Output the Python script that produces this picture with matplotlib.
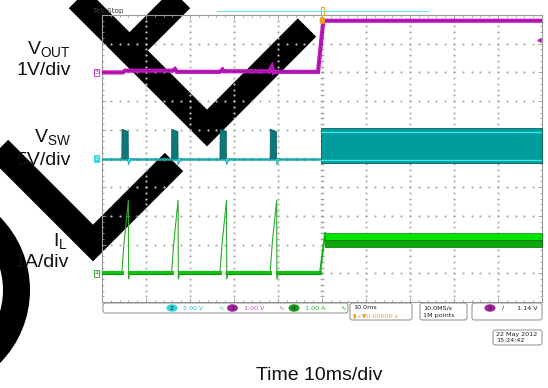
import matplotlib
matplotlib.use("Agg")
import matplotlib.pyplot as plt
import numpy as np
from matplotlib.patches import FancyBboxPatch, Wedge, Ellipse, Rectangle

plt.rcParams['font.family'] = ['Liberation Sans', 'DejaVu Sans']
W, H = 548, 388

# scope settings: 10 ms/div, 10 divisions, trigger at centre
t_min, t_max = -50, 50
vout_scale, vout_offset = 1.0, 3.0    # V/div, ground position in div
vsw_scale, vsw_offset = 5.0, 0.0
il_scale, il_offset = 1.0, -4.0
trig_level = 1.14

# V_OUT (V)
vout_t = [-50, -45.2, -44.8, -34.0, -33.4, -33.0, -23.2, -22.6, -22.3, -12.0, -11.4, -11.0, -10.8, -0.9, 0.3, 50]
vout_v = [0.0, 0.0, 0.06, 0.06, 0.12, 0.02, 0.02, 0.10, 0.04, 0.04, 0.20, 0.00, 0.02, 0.02, 1.80, 1.80]

# switching bursts before start-up (rising edge times, ms)
pulse_t = [-45.5, -34.2, -23.2, -11.8]
vsw_pulse_t = [0.0, 0.05, 1.45, 1.5]
vsw_pulse_v = [0.0, 5.1, 4.7, 0.0]
vsw_dip_t = [1.3, 1.5, 2.3]
vsw_dip_v = [0.0, -1.1, 0.0]
il_pulse_t = [0.0, 0.5, 1.5, 1.55, 1.9]
il_pulse_v = [0.0, 1.05, 2.55, -0.2, 0.0]

# continuous switching after start-up
start_t = -0.3
vsw_band = (-0.85, 5.25)
vsw_edges = (-0.25, 4.7)
il_rise_t = [-0.45, 0.7]
il_rise_v = [0.0, 1.4]
il_band = (0.93, 1.39)

fig = plt.figure(figsize=(W / 100, H / 100), dpi=100)

# watermark layer (pixel coords)
bg = fig.add_axes([0, 0, 1, 1], zorder=0)
bg.set_xlim(0, W); bg.set_ylim(H, 0); bg.axis('off')
wm_col = '#000000'
wm = dict(color=wm_col, lw=18.7, solid_joinstyle='miter', solid_capstyle='butt')
bg.plot([59, 207, 307], [-20, 128, 27.5], **wm)
bg.plot([200, 130], [-20, 50], **wm)
bg.plot([-20, 93, 174], [130, 243, 162], **wm)
bg.add_patch(Wedge((-74, 290), 104, -90, 90, width=27, color=wm_col, lw=0))

# scope graticule
ax = fig.add_axes([102 / W, 1 - 302 / H, 440 / W, 287 / H], zorder=1)
ax.patch.set_alpha(0)
ax.set_xlim(t_min, t_max)
ax.set_ylim(-5, 5)
for s in ax.spines.values():
    s.set_color('#9a9a9a'); s.set_linewidth(0.8)
ax.set_xticks(np.arange(-50, 51, 10))
ax.set_xticks(np.arange(-50, 51, 2), minor=True)
ax.set_yticks(np.arange(-5, 6, 1))
ax.set_yticks(np.arange(-5, 5.01, 0.2), minor=True)
ax.tick_params(which='both', direction='in', top=True, right=True, labelbottom=False,
               labelleft=False, color='#9a9a9a', width=0.6)
ax.tick_params(which='major', length=3)
ax.tick_params(which='minor', length=1.5)

gx = np.arange(-40, 41, 10)
gy = np.arange(-4, 5, 1)
dots_y = np.arange(-5, 5.01, 0.2)
dots_x = np.arange(-50, 51, 2)
for x in gx:
    ax.plot(np.full_like(dots_y, x), dots_y, ls='', marker='s', ms=0.6, color='#b4b4b4', zorder=1)
for y in gy:
    ax.plot(dots_x, np.full_like(dots_x, y, dtype=float), ls='', marker='s', ms=0.6, color='#b4b4b4', zorder=1)
ax.plot(np.zeros_like(dots_y), dots_y, ls='', marker='_', ms=3, mew=0.6, color='#a0a0a0', zorder=1)
ax.plot(dots_x, np.zeros_like(dots_x, dtype=float), ls='', marker='|', ms=3, mew=0.6, color='#a0a0a0', zorder=1)

# V_SW
vsw_t = [t_min, start_t]
ax.plot(vsw_t, [vsw_offset] * 2, color='#1aa6ae', lw=1.8, zorder=3)
for p in pulse_t:
    ax.fill([p + v for v in vsw_pulse_t], [vsw_offset + v / vsw_scale for v in vsw_pulse_v],
            fc='#0c7878', ec='#065858', lw=0.5, zorder=4)
    ax.fill([p + v for v in vsw_dip_t], [vsw_offset + v / vsw_scale for v in vsw_dip_v],
            fc='#40dde6', ec='#0c8c90', lw=0.4, zorder=4)
ax.fill_between([start_t, t_max], vsw_offset + vsw_band[0] / vsw_scale,
                vsw_offset + vsw_band[1] / vsw_scale, fc='#009c9c', ec='#0b5e5e', lw=0.6, zorder=3)
for e in vsw_edges:
    ax.plot([start_t, t_max], [vsw_offset + e / vsw_scale] * 2, color='#3fe2e6', lw=1.0, zorder=4)

# V_OUT
vout_y = [vout_offset + v / vout_scale for v in vout_v]
ax.plot(vout_t, vout_y, color='#c414c4', lw=3.0, zorder=5, solid_joinstyle='miter')
ax.plot(vout_t, vout_y, color='#8c1c8c', lw=0.6, zorder=5)

# I_L
base_t, base_v = [t_min], [0.0]
for p in pulse_t:
    base_t += [p, np.nan, p + il_pulse_t[-1]]
    base_v += [0.0, np.nan, 0.0]
base_t.append(il_rise_t[0]); base_v.append(0.0)
base_y = [il_offset + v / il_scale for v in base_v]
ax.plot(base_t, base_y, color='#12c412', lw=3.0, zorder=4)
ax.plot(base_t, [y - 0.04 for y in base_y], color='#0a780a', lw=0.5, zorder=4)
for p in pulse_t:
    ax.plot([p + v for v in il_pulse_t], [il_offset + v / il_scale for v in il_pulse_v],
            color='#2caa2c', lw=0.8, zorder=4)
ax.plot(il_rise_t, [il_offset + v / il_scale for v in il_rise_v], color='#10b010', lw=1.4, zorder=4)
mid = (il_band[0] + il_band[1]) / 2
ax.fill_between([il_rise_t[1], t_max], il_offset + mid / il_scale, il_offset + il_band[1] / il_scale,
                fc='#00e400', ec='#0a8a0a', lw=0.5, zorder=3)
ax.fill_between([il_rise_t[1], t_max], il_offset + il_band[0] / il_scale, il_offset + mid / il_scale,
                fc='#0aa80a', ec='#076807', lw=0.5, zorder=3)

# ground markers and trigger level
for lab, off, fc, ec, tc in [('3', vout_offset, 'white', '#c020c0', '#c020c0'),
                             ('2', vsw_offset, '#2ed6e0', '#2ed6e0', 'white'),
                             ('4', il_offset, 'white', '#20a020', '#20a020')]:
    ax.text(t_min - 0.8, off, lab, ha='right', va='center', fontsize=4.5, color=tc,
            family='DejaVu Sans', clip_on=False,
            bbox=dict(boxstyle='square,pad=0.15', fc=fc, ec=ec, lw=0.6))
ax.plot(t_max - 0.6, vout_offset + trig_level / vout_scale, marker='<', ms=2.5, color='#c020c0',
        clip_on=False, zorder=6)

# UI layer (pixel coords)
ui = fig.add_axes([0, 0, 1, 1], zorder=2)
ui.set_xlim(0, W); ui.set_ylim(H, 0); ui.axis('off')
ui.patch.set_visible(False)
small = dict(fontsize=4.6, family=['DejaVu Sans'], va='center')

ui.text(93, 10.5, 'Tek Stop', fontsize=5.2, color='#404040', family=['DejaVu Sans'], va='center')
ui.plot([217, 428], [11, 11], color='#6ae2ea', lw=0.8)
ui.add_patch(Rectangle((320.6, 7), 3, 8, fc='white', ec='#f0a020', lw=0.7))
ui.add_patch(FancyBboxPatch((320, 17.5), 4.6, 6, boxstyle='round,pad=0,rounding_size=1.5',
                            fc='#f0a020', ec='#f0a020', lw=0.5))

def box(x, y, w, h):
    ui.add_patch(FancyBboxPatch((x, y), w, h, boxstyle='round,pad=0,rounding_size=2.5',
                                fc='white', ec='#8c8c8c', lw=0.7))

box(103, 303, 245, 10)
for cx, num, fc, txt, tc in [(172, '2', '#30d4e0', '5.00 V', '#22c4d2'),
                             (232.5, '3', '#a424a4', '1.00 V', '#c040c0'),
                             (294, '4', '#14a014', '1.00 A', '#22b022')]:
    ui.add_patch(Ellipse((cx, 308), 11, 7.5, fc=fc, ec='none'))
    ui.text(cx, 308.2, num, ha='center', color='#202020', **small)
    ui.text(cx + 11, 308.2, txt, ha='left', color=tc, **small)
    ui.text(cx + 46, 308.2, '\u223f', ha='left', color=tc, **small)

box(350, 303, 62, 17)
ui.text(353, 307.5, '10.0ms', ha='left', color='#202020', **small)
ui.text(353, 315.5, '\u25ae+\u25bc0.00000 s', ha='left', color='#f0a020', **small)
box(420, 303, 47, 17)
ui.text(423, 307.5, '10.0MS/s', ha='left', color='#202020', **small)
ui.text(423, 315.5, '1M points', ha='left', color='#202020', **small)
box(472, 303, 70, 17)
ui.add_patch(Ellipse((490, 308), 11, 7.5, fc='#a424a4', ec='none'))
ui.text(490, 308.2, '3', ha='center', color='#202020', **small)
ui.text(503, 308.2, '/', ha='center', color='#202020', **small)
ui.text(538, 308.2, '1.14 V', ha='right', color='#202020', **small)
box(493, 330, 49, 15)
ui.text(496, 334.5, '22 May 2012', ha='left', color='#202020', **small)
ui.text(496, 341, '15:24:42', ha='left', color='#202020', **small)

# channel labels
lab = dict(fontsize=14, ha='right', va='baseline', color='#111111')
fig.text(71 / W, 1 - 55 / H, r'V$_\mathregular{OUT}$', **lab)
fig.text(71 / W, 1 - 75 / H, '1V/div', **lab)
fig.text(71 / W, 1 - 143 / H, r'V$_\mathregular{SW}$', **lab)
fig.text(71 / W, 1 - 165 / H, '5V/div', **lab)
fig.text(68 / W, 1 - 247 / H, r'I$_\mathregular{L}$', **lab)
fig.text(69 / W, 1 - 267 / H, '1A/div', **lab)
fig.text(319.5 / W, 1 - 380 / H, 'Time 10ms/div', fontsize=14, ha='center', va='baseline', color='#111111')

fig.savefig('out.png', dpi=100)
